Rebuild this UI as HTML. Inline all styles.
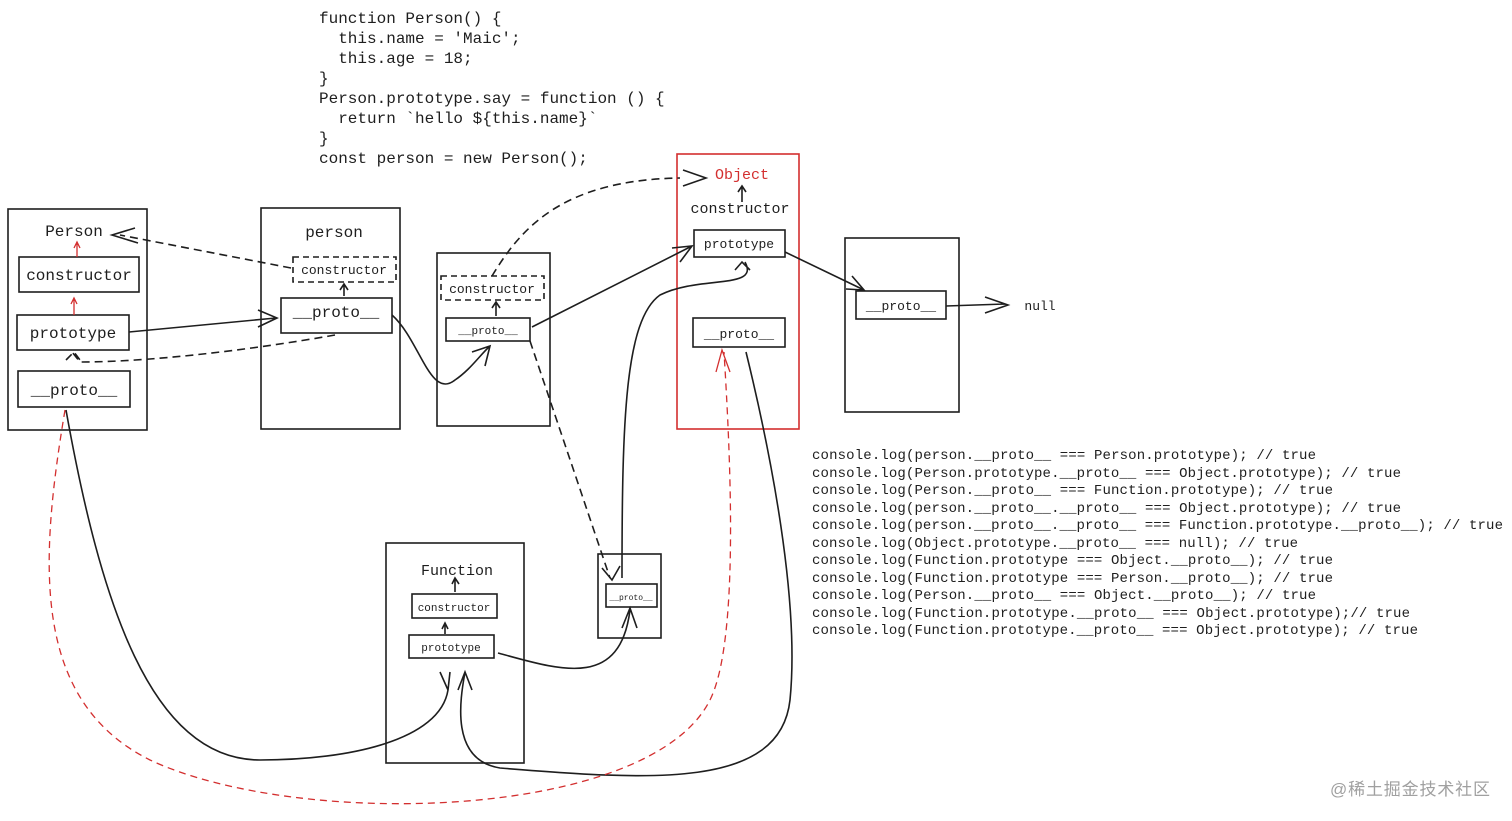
<!DOCTYPE html>
<html><head><meta charset="utf-8"><style>
html,body{margin:0;padding:0;background:#fff;}
svg{display:block}
text{font-family:"Liberation Mono","DejaVu Sans Mono",monospace;fill:#1e1e1e;white-space:pre}
</style></head><body>
<svg width="1512" height="821" viewBox="0 0 1512 821" xmlns="http://www.w3.org/2000/svg" xml:space="preserve">
<g font-size="16">
<text x="319" y="23">function Person() {</text>
<text x="319" y="43">  this.name = 'Maic';</text>
<text x="319" y="63">  this.age = 18;</text>
<text x="319" y="83">}</text>
<text x="319" y="103">Person.prototype.say = function () {</text>
<text x="319" y="123">  return `hello ${this.name}`</text>
<text x="319" y="143">}</text>
<text x="319" y="163">const person = new Person();</text>
</g>
<g fill="none" stroke="#1e1e1e" stroke-width="1.6">
<rect x="8" y="209" width="139" height="221"/>
<rect x="19" y="257" width="120" height="35"/>
<rect x="17" y="315" width="112" height="35"/>
<rect x="18" y="371" width="112" height="36"/>
<rect x="261" y="208" width="139" height="221"/>
<rect x="293" y="257" width="103" height="25" stroke-dasharray="6 4"/>
<rect x="281" y="298" width="111" height="35"/>
<rect x="437" y="253" width="113" height="173"/>
<rect x="441" y="276" width="103" height="24" stroke-dasharray="6 4"/>
<rect x="446" y="318" width="84" height="23"/>
<rect x="677" y="154" width="122" height="275" stroke="#d32f2f"/>
<rect x="694" y="230" width="91" height="27"/>
<rect x="693" y="318" width="92" height="29"/>
<rect x="845" y="238" width="114" height="174"/>
<rect x="856" y="291" width="90" height="28"/>
<rect x="386" y="543" width="138" height="220"/>
<rect x="412" y="594" width="85" height="24"/>
<rect x="409" y="635" width="85" height="23"/>
<rect x="598" y="554" width="63" height="84"/>
<rect x="606" y="584" width="51" height="23"/>

<path d="M129 332 L276 318 M258 310 L277 318 L258 327"/>
<path d="M335 335 C250 350 150 362 80 362 L72 352 M66 360 L74 352 L80 360" stroke-dasharray="8 5"/>
<path d="M291 268 L120 235" stroke-dasharray="8 5"/>
<path d="M135 228 L112 235 L138 243"/>
<path d="M344 296 L344 284 M340 290 L344 284 L348 290"/>
<path d="M392 315 C420 340 430 400 455 380 C470 370 480 355 490 346 M472 352 L490 346 L485 366"/>
<path d="M496 316 L496 302 M492 308 L496 302 L500 308"/>
<path d="M532 327 L692 246 M672 248 L692 246 L680 262"/>
<path d="M492 276 C520 230 560 180 680 178" stroke-dasharray="8 5"/>
<path d="M683 170 L706 178 L683 186"/>
<path d="M742 202 L742 186 M738 192 L742 186 L746 192"/>
<path d="M785 252 L864 290 M846 289 L864 290 L852 276"/>
<path d="M946 306 L1005 304 M985 297 L1008 305 L985 313"/>
<path d="M530 341 L610 578" stroke-dasharray="8 5"/>
<path d="M602 568 L612 580 L620 566"/>
<path d="M622 578 C622 420 625 320 660 295 C700 275 760 290 745 262 M735 270 L742 262 L750 270"/>
<path d="M498 653 C560 670 620 690 630 610 M622 628 L630 608 L637 628"/>
<path d="M445 634 L445 624 M442 629 L445 623 L448 629"/>
<path d="M455 592 L455 578 M452 584 L455 578 L459 584"/>
<path d="M66 410 C100 600 150 760 260 760 C350 760 440 740 448 690 L440 672 M448 690 L450 672"/>
<path d="M746 352 C770 450 800 600 790 700 C780 790 650 780 500 768 C450 760 460 700 465 672 M458 690 L465 672 L472 690"/>
</g>
<g fill="none" stroke="#d32f2f" stroke-width="1.3">
<path d="M77 257 L77 242 M74 248 L77 242 L80 248"/>
<path d="M74 315 L74 298 M71 304 L74 298 L77 304"/>
<path d="M65 410 C40 560 30 700 150 760 C300 830 650 820 710 700 C740 640 730 450 724 352" stroke-dasharray="7 5"/>
<path d="M716 372 L722 350 L730 372"/>
</g>
<g font-size="16" text-anchor="middle">
<text x="74" y="236">Person</text>
<text x="79" y="280">constructor</text>
<text x="73" y="338">prototype</text>
<text x="74" y="395">__proto__</text>
<text x="334" y="237">person</text>
<text x="336" y="317">__proto__</text>
<text x="740" y="213" font-size="15">constructor</text>
<text x="742" y="179" font-size="15" style="fill:#d32f2f">Object</text>
<text x="457" y="575" font-size="15">Function</text>
</g>
<g font-size="13" text-anchor="middle">
<text x="344" y="274">constructor</text>
<text x="492" y="293">constructor</text>
<text x="739" y="248">prototype</text>
<text x="739" y="338">__proto__</text>
<text x="901" y="310">__proto__</text>
<text x="1040" y="310">null</text>
</g>
<g font-size="11" text-anchor="middle">
<text x="488" y="334">__proto__</text>
<text x="454" y="611">constructor</text>
<text x="451" y="651">prototype</text>
<text x="631" y="600" font-size="8">__proto__</text>
</g>
<g font-size="14">
<text x="812" y="459" textLength="504">console.log(person.__proto__ === Person.prototype); // true</text>
<text x="812" y="477" textLength="589">console.log(Person.prototype.__proto__ === Object.prototype); // true</text>
<text x="812" y="494" textLength="521">console.log(Person.__proto__ === Function.prototype); // true</text>
<text x="812" y="512" textLength="589">console.log(person.__proto__.__proto__ === Object.prototype); // true</text>
<text x="812" y="529" textLength="691">console.log(person.__proto__.__proto__ === Function.prototype.__proto__); // true</text>
<text x="812" y="547" textLength="486">console.log(Object.prototype.__proto__ === null); // true</text>
<text x="812" y="564" textLength="521">console.log(Function.prototype === Object.__proto__); // true</text>
<text x="812" y="582" textLength="521">console.log(Function.prototype === Person.__proto__); // true</text>
<text x="812" y="599" textLength="504">console.log(Person.__proto__ === Object.__proto__); // true</text>
<text x="812" y="617" textLength="598">console.log(Function.prototype.__proto__ === Object.prototype);// true</text>
<text x="812" y="634" textLength="606">console.log(Function.prototype.__proto__ === Object.prototype); // true</text>
</g>
<text x="1330" y="795" font-size="17" textLength="160" style="fill:#a0a0a0;font-family:'Liberation Sans','Noto Sans CJK SC',sans-serif">@稀土掘金技术社区</text>
</svg>
</body></html>
